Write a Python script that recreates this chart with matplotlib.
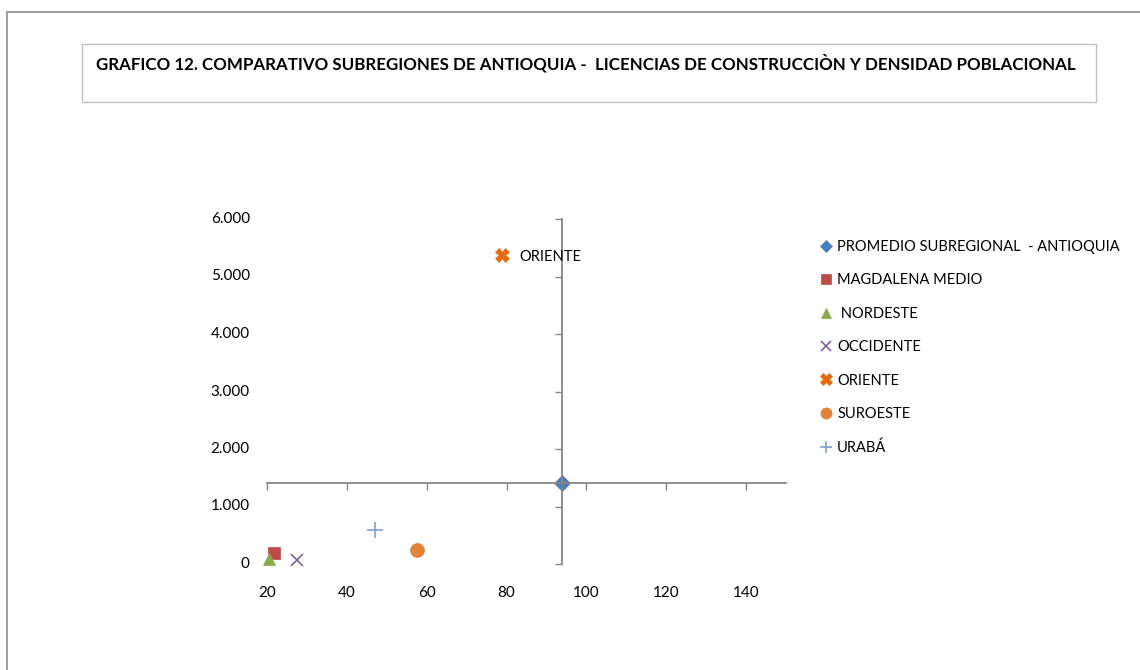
import matplotlib.pyplot as plt
from matplotlib.patches import Rectangle
import matplotlib.transforms as mtransforms

plt.rcParams['font.family'] = ['Lato', 'DejaVu Sans']

# data (x: density, y: licences)
labels = ['PROMEDIO SUBREGIONAL  - ANTIOQUIA', 'MAGDALENA MEDIO', ' NORDESTE',
          'OCCIDENTE', 'ORIENTE', 'SUROESTE', 'URABÁ']
xvals = [93.9, 21.8, 20.6, 27.4, 78.8, 57.6, 47.1]
yvals = [1405, 191, 95, 70, 5379, 244, 592]
markers = ['D', 's', '^', 'x', 'X', 'o', '+']
colors = ['#4A7EBB', '#BE4B48', '#8BAA4A', '#7D5FA0', '#E46C0A', '#E0843A', '#7F9FD4']
sizes = [8, 9, 9, 9, 10, 10, 11]

xticks = [20, 40, 60, 80, 100, 120, 140]
yticks = [0, 1000, 2000, 3000, 4000, 5000, 6000]
ytick_labels = ['0', '1.000', '2.000', '3.000', '4.000', '5.000', '6.000']

fig = plt.figure(figsize=(11.4, 6.7), dpi=100)

# outer frame and title box
fig.patches.append(Rectangle((7/1140, -0.1), 1.2, 1 - 12/670 + 0.1, transform=fig.transFigure,
                             fill=False, edgecolor='#8c8c8c', lw=1.2))
fig.patches.append(Rectangle((82/1140, 1 - 102/670), (1096-82)/1140, 58/670,
                             transform=fig.transFigure, fill=False, edgecolor='#c0c0c0', lw=1))
fig.text(96/1140, 1 - 63/670,
         'GRAFICO 12. COMPARATIVO SUBREGIONES DE ANTIOQUIA -  LICENCIAS DE CONSTRUCCIÒN Y DENSIDAD POBLACIONAL',
         fontsize=12.2, fontweight='bold', va='center', ha='left')

ax = fig.add_axes([267/1140, 1 - 564/670, (786-267)/1140, (564-219)/670])
ax.set_xlim(20, 150)
ax.set_ylim(0, 6000)

# axes cross at the regional average
ax.spines['left'].set_position(('data', xvals[0]))
ax.spines['bottom'].set_position(('data', yvals[0]))
ax.spines['top'].set_visible(False)
ax.spines['right'].set_visible(False)
for s in ['left', 'bottom']:
    ax.spines[s].set_color('#868686')
    ax.spines[s].set_linewidth(1.3)
ax.set_xticks(xticks)
ax.set_yticks(yticks)
ax.tick_params(axis='both', labelleft=False, labelbottom=False, color='#868686',
               direction='out', length=5, width=1)
ax.patch.set_alpha(0)

# tick labels at the low side, as in the original
tx = mtransforms.blended_transform_factory(ax.transData, ax.transAxes)
for v in xticks:
    ax.text(v, -0.083, str(v), transform=tx, ha='center', va='center', fontsize=11)
ty = mtransforms.blended_transform_factory(ax.transAxes, ax.transData)
for v, t in zip(yticks, ytick_labels):
    ax.text(-0.033, v, t, transform=ty, ha='right', va='center', fontsize=11)

for i in range(len(labels)):
    ax.plot(xvals[i], yvals[i], linestyle='none', marker=markers[i], color=colors[i],
            markersize=sizes[i], markeredgewidth=1.2 if markers[i] in 'x+' else 0.5,
            label=labels[i], clip_on=False)

ax.annotate('ORIENTE', (xvals[4], yvals[4]), xytext=(13, -2), textcoords='offset points',
            va='center', ha='left', fontsize=10.5)

leg = fig.legend(loc='upper left', bbox_to_anchor=(819/1140, 1 - 240/670), frameon=False,
                 fontsize=10.5, handletextpad=0.25, labelspacing=1.33, handlelength=1.0,
                 markerscale=0.8, borderaxespad=0, borderpad=0)

fig.savefig('out.png', dpi=100)
